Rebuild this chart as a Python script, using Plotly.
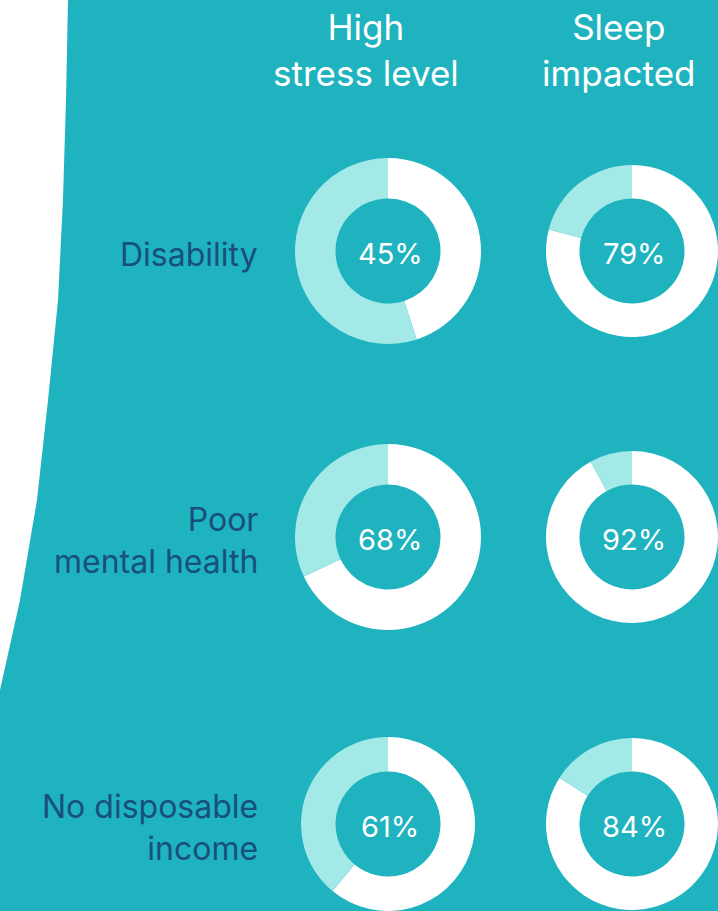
import plotly.graph_objects as go

# ---- data ----
categories = ["Disability", "Poor<br>mental health", "No disposable<br>income"]
measures = ["High<br>stress level", "Sleep<br>impacted"]
stress_pct = [45, 68, 61]
sleep_pct = [79, 92, 84]

# ---- layout constants (pixels) ----
W, H = 718, 911
TEAL = "#1fb3bf"
LIGHT = "#a3e9e8"
WHITE = "#ffffff"
NAVY = "#184f7c"
FONT = "Inter, 'Open Sans', sans-serif"

col_cx = [388, 632]
row_cy = [251, 537, 824]
R_OUT = 93
R_IN = 52.5

def px(x):
    return x / W

def py(y):
    return 1 - y / H

fig = go.Figure()

series = [stress_pct, sleep_pct]
for ci, vals in enumerate(series):
    cx = col_cx[ci]
    for ri, v in enumerate(vals):
        cy = row_cy[ri]
        r = min(R_OUT, cx, W - cx, cy, H - cy)
        fig.add_trace(go.Pie(
            values=[v, 100 - v],
            labels=["Yes", "No"],
            sort=False,
            direction="clockwise",
            rotation=0,
            hole=R_IN / r,
            marker=dict(colors=[WHITE, LIGHT], line=dict(width=0)),
            textinfo="none",
            hoverinfo="label+percent",
            showlegend=False,
            domain=dict(x=[px(cx - r), px(cx + r)], y=[py(cy + r), py(cy - r)]),
        ))
        fig.add_annotation(
            x=px(cx + 2), y=py(cy + 2), xref="paper", yref="paper",
            text=f"{v}%", showarrow=False,
            font=dict(family=FONT, size=29, color=WHITE),
            xanchor="center", yanchor="middle",
        )

# column headers
header_cx = [366, 619]
for ci, m in enumerate(measures):
    fig.add_annotation(
        x=px(header_cx[ci]), y=py(50), xref="paper", yref="paper",
        text=m, showarrow=False, align="center",
        font=dict(family=FONT, size=35, color=WHITE),
        xanchor="center", yanchor="middle",
    )

# row labels
for ri, c in enumerate(categories):
    fig.add_annotation(
        x=px(260), y=py(row_cy[ri] + 3), xref="paper", yref="paper",
        text=c, showarrow=False, align="right",
        font=dict(family=FONT, size=32, color=NAVY),
        xanchor="right", yanchor="middle",
    )

# white curved region on the left
edge = [(68, 0), (66, 100), (63, 200), (58, 300), (48, 400), (37, 500), (20, 600), (0, 690)]
path = "M 0,1 " + " ".join(f"L {px(x):.4f},{py(y):.4f}" for x, y in edge) + " Z"
fig.add_shape(type="path", path=path, xref="paper", yref="paper",
              fillcolor=WHITE, line=dict(width=0), layer="below")

fig.update_layout(
    width=W, height=H,
    margin=dict(l=0, r=0, t=0, b=0),
    paper_bgcolor=TEAL, plot_bgcolor=TEAL,
    showlegend=False,
)

fig.write_html("out.html")
